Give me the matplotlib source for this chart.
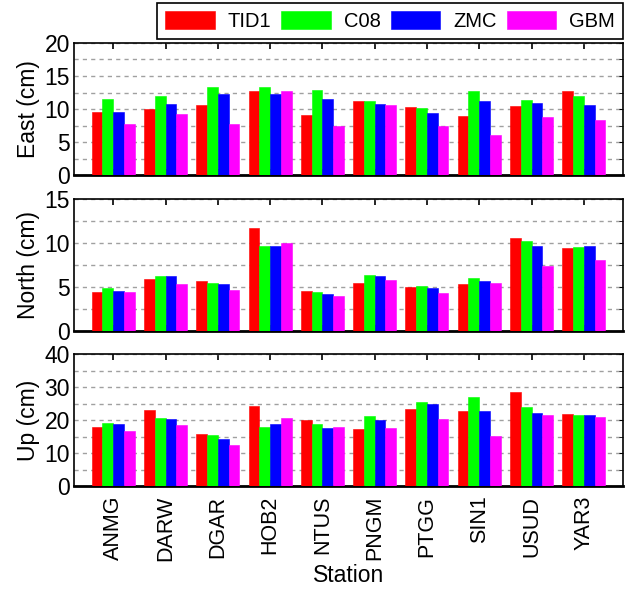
import matplotlib
matplotlib.use("Agg")
import matplotlib.pyplot as plt
import numpy as np
from matplotlib.ticker import MultipleLocator

plt.rcParams['font.family'] = ['Liberation Sans', 'DejaVu Sans']

stations = ["ANMG", "DARW", "DGAR", "HOB2", "NTUS", "PNGM", "PTGG", "SIN1", "USUD", "YAR3"]
series = ["TID1", "C08", "ZMC", "GBM"]
colors = ["#ff0000", "#00ff00", "#0000ff", "#ff00ff"]

east_tid1 = [9.6, 9.95, 10.6, 12.7, 9.1, 11.2, 10.3, 8.9, 10.4, 12.8]
east_c08 = [11.5, 12.0, 13.4, 13.3, 12.9, 11.2, 10.2, 12.8, 11.4, 11.9]
east_zmc = [9.6, 10.7, 12.2, 12.2, 11.5, 10.8, 9.35, 11.2, 10.9, 10.6]
east_gbm = [7.8, 9.3, 7.8, 12.7, 7.5, 10.6, 7.5, 6.1, 8.8, 8.4]

north_tid1 = [4.4, 5.9, 5.7, 11.75, 4.5, 5.5, 5.05, 5.3, 10.6, 9.4]
north_c08 = [4.85, 6.3, 5.4, 9.7, 4.4, 6.4, 5.1, 6.0, 10.25, 9.6]
north_zmc = [4.5, 6.3, 5.3, 9.7, 4.2, 6.3, 4.85, 5.7, 9.7, 9.7]
north_gbm = [4.4, 5.3, 4.7, 10.0, 4.0, 5.8, 4.3, 5.5, 7.4, 8.1]

up_tid1 = [18.0, 23.0, 15.8, 24.2, 20.0, 17.3, 23.4, 22.8, 28.5, 21.9]
up_c08 = [19.2, 20.7, 15.5, 18.0, 18.8, 21.2, 25.5, 27.1, 24.0, 21.5]
up_zmc = [18.8, 20.3, 14.2, 18.7, 17.7, 20.0, 24.9, 22.7, 22.1, 21.5]
up_gbm = [16.8, 18.6, 12.3, 20.5, 18.0, 17.6, 20.2, 15.2, 21.6, 20.9]

panels = [
    ("East (cm)", [east_tid1, east_c08, east_zmc, east_gbm], 20, 5, 2.5),
    ("North (cm)", [north_tid1, north_c08, north_zmc, north_gbm], 15, 5, 2.5),
    ("Up (cm)", [up_tid1, up_c08, up_zmc, up_gbm], 40, 10, 5),
]

fig = plt.figure(figsize=(6.3, 5.91), dpi=100)
W, H = 630, 591
left_px, right_px = 74, 623
tops = [43, 199, 354]
height_px = 132

x = np.arange(len(stations))
bw = 0.205
fs_y = 16.5
fs_x = 15.5
fs_leg = 14.5
axes = []
for i, (label, vals, ymax, major, minor) in enumerate(panels):
    top = tops[i]
    ax = fig.add_axes([left_px / W, 1 - (top + height_px) / H,
                       (right_px - left_px) / W, height_px / H])
    axes.append(ax)
    for j, v in enumerate(vals):
        ax.bar(x + (j - 1.5) * bw, v, width=bw, color=colors[j],
               edgecolor=colors[j], linewidth=0.4, label=series[j], zorder=3)
    ax.set_xlim(-0.75, 9.75)
    ax.set_ylim(0, ymax)
    ax.yaxis.set_major_locator(MultipleLocator(major))
    ax.yaxis.set_minor_locator(MultipleLocator(minor))
    ax.grid(axis='y', which='both', linestyle=(0, (3, 3)), color='#a0a0a0', linewidth=1.0, zorder=0)
    ax.tick_params(axis='y', which='both', left=False, right=True, direction='in',
                   length=3, labelsize=fs_y, pad=3)
    ax.tick_params(axis='x', which='both', top=True, bottom=True, direction='in',
                   length=4, width=1.2, labelsize=fs_x, pad=7)
    ax.set_xticks(x)
    ax.set_ylabel(label, fontsize=fs_y, labelpad=3)
    for s in ax.spines.values():
        s.set_linewidth(1.2)
    ax.spines['bottom'].set_linewidth(2.0)
    if i < 2:
        ax.set_xticklabels([])
    else:
        ax.set_xticklabels(stations, rotation=90, fontsize=fs_x)
        ax.set_xlabel("Station", fontsize=16.5, labelpad=2)

axes[0].legend(loc='upper right', bbox_to_anchor=(623 / W, 1 - 3 / H),
               bbox_transform=fig.transFigure, ncol=4, fontsize=fs_leg,
               frameon=True, fancybox=False, edgecolor='black', framealpha=1,
               handlelength=2.45, handleheight=1.0, handletextpad=0.65,
               columnspacing=0.5, borderpad=0.4, borderaxespad=0)
axes[0].get_legend().get_frame().set_linewidth(1.2)

fig.savefig("out.png", dpi=100)
